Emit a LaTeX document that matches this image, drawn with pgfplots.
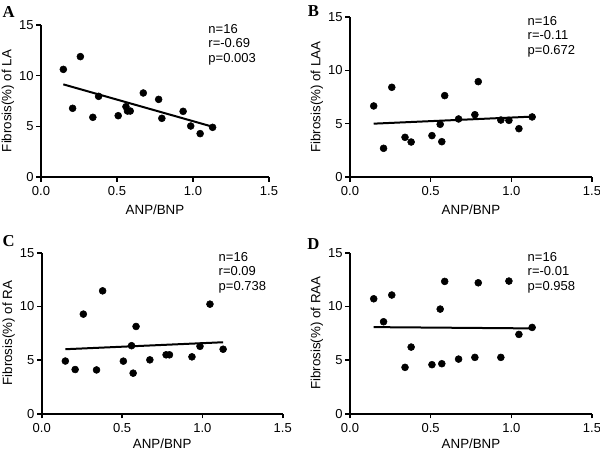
\documentclass[border=0pt]{standalone}
\usepackage{pgfplots}
\usepackage{pgfplotstable}
\pgfplotsset{compat=1.18}
\usepackage{fontspec}
\setmainfont{Liberation Sans}
\newfontfamily\serifb{Liberation Serif}

\pgfplotstableread{
x      la     laa    ra     raa
0.147  10.62  6.66   4.91   10.71
0.208  6.78   2.69   4.12   8.57
0.259  11.88  8.41   9.28   11.06
0.341  5.89   3.72   4.08   4.32
0.379  7.96   3.28   11.45  6.21
0.508  6.05   3.88   4.90   4.57
0.559  6.94   4.94   6.34   9.75
0.569  6.51   3.31   3.78   4.66
0.587  6.51   7.63   8.13   12.33
0.673  8.29   5.44   5.02   5.09
0.774  7.66   5.84   5.49   5.25
0.795  5.79   8.94   5.49   12.20
0.935  6.48   5.34   5.30   5.25
0.985  5.03   5.31   6.28   12.36
1.047  4.28   4.53   10.21  7.39
1.129  4.90   5.63   6.01   8.04
}\datatable

\pgfplotsset{
  panel/.style={
    scale only axis,
    xmin=0, xmax=1.5, ymin=0, ymax=15,
    axis x line*=bottom, axis y line*=left,
    axis line style={line width=1.4pt, black},
    xtick={0,0.5,1,1.5}, ytick={0,5,10,15},
    tick align=outside, major tick length=3.5pt,
    every tick/.style={black, line width=1.2pt},
    xticklabel style={/pgf/number format/.cd, fixed, fixed zerofill, precision=1},
    yticklabel style={xshift=1.5pt},
    /pgf/number format/assume math mode=true,
    tick label style={font=\fontsize{9.75}{11}\selectfont},
    label style={font=\fontsize{9.75}{11}\selectfont},
    xlabel={ANP/BNP},
    every axis x label/.style={at={(axis description cs:0.5,0)}, anchor=center, yshift=-24.75pt},
    every axis y label/.style={at={(axis description cs:0,0.5)}, anchor=center, rotate=90, yshift=24.75pt},
    clip=false,
  },
  pts/.style={only marks, mark=*, mark size=2.6pt, black},
  fit/.style={black, line width=1.5pt, no marks},
}
\newcommand{\stats}[3]{\node[anchor=north west, align=left, inner sep=0pt, font=\fontsize{9.75}{10.9}\selectfont] at (axis cs:1.1,15.1) {n=#1\\r=#2\\p=#3};}

\begin{document}
\begin{tikzpicture}
\path[use as bounding box] (0,0) rectangle (450pt,-339pt);

\begin{axis}[panel, width=171pt, height=114pt, at={(30.75pt,-132.75pt)}, anchor=origin,
  ylabel={Fibrosis(\%) of LA}]
  \addplot[pts] table[x=x, y=la] {\datatable};
  \addplot[fit] coordinates {(0.147,9.14) (1.129,4.96)};
  \stats{16}{-0.69}{0.003}
\end{axis}

\begin{axis}[panel, width=181.5pt, height=120pt, at={(262.5pt,-132.75pt)}, anchor=origin,
  ylabel={Fibrosis(\%) of LAA}]
  \addplot[pts] table[x=x, y=laa] {\datatable};
  \addplot[fit] coordinates {(0.147,5.00) (1.129,5.66)};
  \stats{16}{-0.11}{0.672}
\end{axis}

\begin{axis}[panel, width=180.75pt, height=120.75pt, at={(31.3pt,-310.3pt)}, anchor=origin,
  ylabel={Fibrosis(\%) of RA},
  every axis x label/.style={at={(axis description cs:0.5,0)}, anchor=center, yshift=-22.5pt}]
  \addplot[pts] table[x=x, y=ra] {\datatable};
  \addplot[fit] coordinates {(0.147,6.01) (1.129,6.66)};
  \stats{16}{0.09}{0.738}
\end{axis}

\begin{axis}[panel, width=181.5pt, height=120.75pt, at={(262.5pt,-310.3pt)}, anchor=origin,
  ylabel={Fibrosis(\%) of RAA},
  every axis x label/.style={at={(axis description cs:0.5,0)}, anchor=center, yshift=-22.5pt}]
  \addplot[pts] table[x=x, y=raa] {\datatable};
  \addplot[fit] coordinates {(0.147,8.07) (1.129,7.95)};
  \stats{16}{-0.01}{0.958}
\end{axis}

\node[font=\serifb\bfseries\fontsize{12.5}{14}\selectfont] at (6.4pt,-9pt) {A};
\node[font=\serifb\bfseries\fontsize{12.5}{14}\selectfont] at (235pt,-8.3pt) {B};
\node[font=\serifb\bfseries\fontsize{12.5}{14}\selectfont] at (6.4pt,-180.8pt) {C};
\node[font=\serifb\bfseries\fontsize{12.5}{14}\selectfont] at (235pt,-183.4pt) {D};
\end{tikzpicture}
\end{document}
